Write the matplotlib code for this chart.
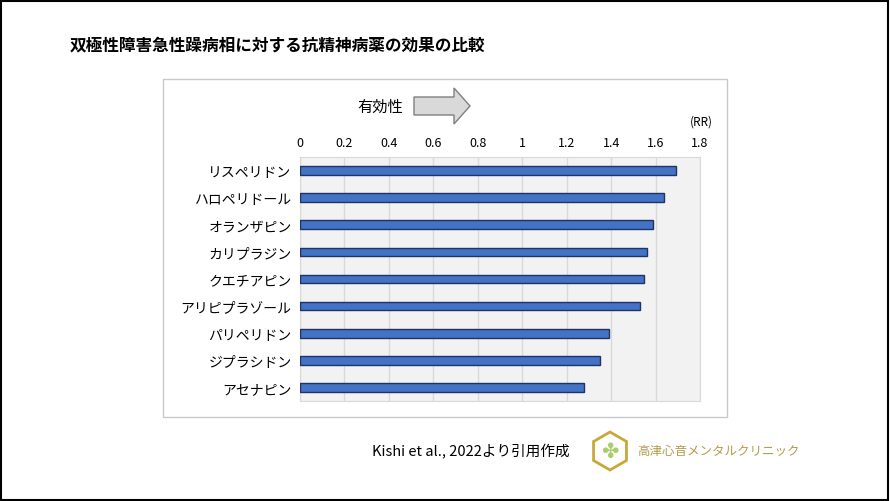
import matplotlib
matplotlib.use("Agg")
import matplotlib.pyplot as plt
from matplotlib.patches import Rectangle, FancyArrow, RegularPolygon

plt.rcParams['font.family'] = ['Noto Sans CJK JP', 'DejaVu Sans']

drugs = ['リスペリドン', 'ハロペリドール', 'オランザピン', 'カリプラジン', 'クエチアピン',
         'アリピプラゾール', 'パリペリドン', 'ジプラシドン', 'アセナピン']
rr = [1.69, 1.64, 1.59, 1.56, 1.55, 1.53, 1.39, 1.35, 1.28]
ticks = [0, 0.2, 0.4, 0.6, 0.8, 1, 1.2, 1.4, 1.6, 1.8]
tick_labels = ['0', '0.2', '0.4', '0.6', '0.8', '1', '1.2', '1.4', '1.6', '1.8']

W, H = 890, 502
fig = plt.figure(figsize=(W / 100, H / 100), dpi=100)

# outer frame and chart box
fig.patches.append(Rectangle((1 / W, 1 / H), 1 - 3 / W, 1 - 3 / H, transform=fig.transFigure,
                             fill=False, edgecolor='black', linewidth=1.5))
fig.patches.append(Rectangle((163 / W, 1 - 418 / H), 564 / W, 338 / H, transform=fig.transFigure,
                             fill=False, edgecolor='#c8c8c8', linewidth=1))

fig.text(70 / W, 1 - 45 / H, '双極性障害急性躁病相に対する抗精神病薬の効果の比較',
         fontsize=12, fontweight='bold', va='center')

ax = fig.add_axes([300 / W, 1 - 402 / H, 400 / W, 244 / H])
ax.set_facecolor('#f2f2f2')
y = list(range(len(drugs)))
ax.barh(y, rr, height=0.32, color='#4472c4', edgecolor='#1f3466', linewidth=1, zorder=3)
ax.set_xlim(0, 1.8)
ax.set_ylim(len(drugs) - 0.5, -0.5)
ax.set_yticks(y)
ax.set_yticklabels(drugs, fontsize=10)
ax.set_xticks(ticks)
ax.set_xticklabels(tick_labels, fontsize=9)
ax.xaxis.tick_top()
ax.tick_params(length=0, pad=6)
ax.grid(axis='x', color='#d9d9d9', linewidth=1, zorder=0)
for s in ax.spines.values():
    s.set_color('#d9d9d9')

fig.text(690 / W, 1 - 122 / H, '(RR)', fontsize=8.5, va='center')
fig.text(357 / W, 1 - 107 / H, '有効性', fontsize=11, va='center')
fig.patches.append(FancyArrow(414 / W, 1 - 107 / H, 40 / W, 0, width=18 / H, head_width=36 / H,
                              head_length=16 / W, length_includes_head=False,
                              transform=fig.transFigure, facecolor='#d9d9d9', edgecolor='#7f7f7f'))

fig.text(372 / W, 1 - 452 / H, 'Kishi et al., 2022より引用作成', fontsize=10.5, va='center')
fig.patches.append(RegularPolygon((6.10, 0.50), 6, radius=0.19, orientation=0,
                                  transform=fig.dpi_scale_trans, fill=False,
                                  edgecolor='#c9a83a', linewidth=2))
fig.text(610 / W, 1 - 452 / H, '✤', fontsize=15, color='#a8cf6a', ha='center', va='center',
         family=['DejaVu Sans'])
fig.text(637 / W, 1 - 452 / H, '高津心音メンタルクリニック', fontsize=9, color='#b59a4a', va='center')

fig.savefig('out.png', dpi=100)
